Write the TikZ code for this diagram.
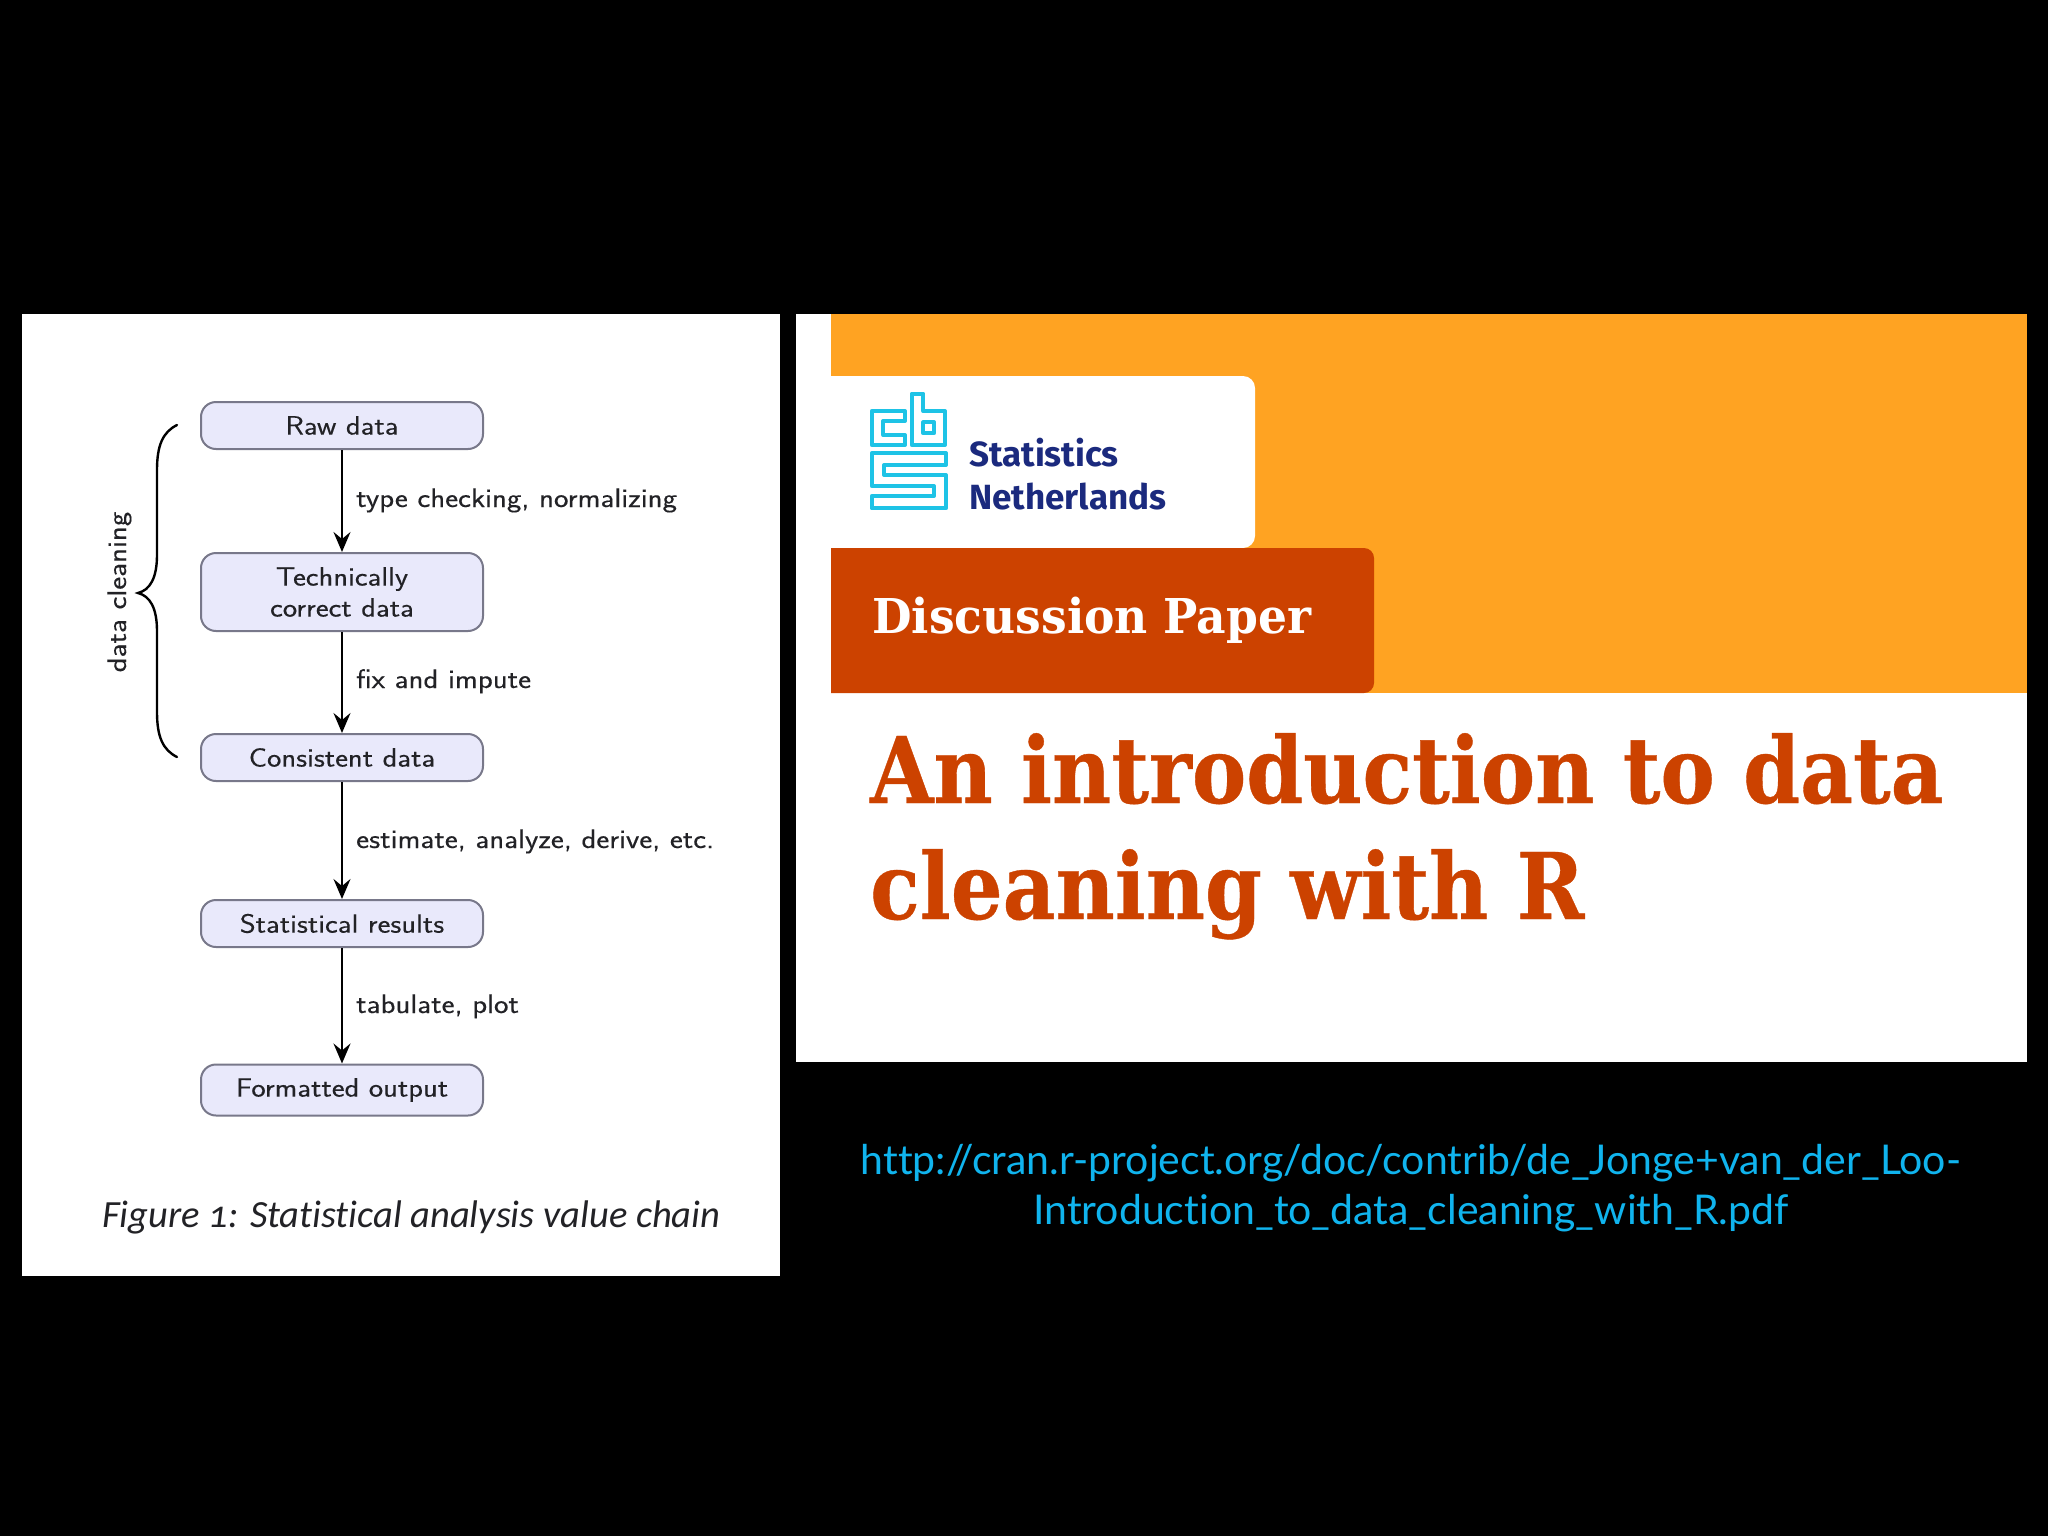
\documentclass[tikz,border=0pt]{standalone}
\usepackage{fontspec}
\usetikzlibrary{arrows.meta}
\newfontfamily\titlefont[FakeStretch=0.886,FakeBold=0.4,Ligatures=CommonOff]{DejaVu Serif}
\newfontfamily\dpfont[FakeStretch=0.95,Ligatures=CommonOff]{DejaVu Serif}
\newfontfamily\urlfont[Ligatures=CommonOff]{Lato}
\newfontfamily\capfont[Numbers=OldStyle,Ligatures=CommonOff]{Carlito}
\newfontfamily\logofont{Fira Sans}
\newfontfamily\diagfont[FakeStretch=1.15,FakeBold=0.25]{Latin Modern Sans}
\definecolor{boxfill}{HTML}{E9E9FB}
\definecolor{boxline}{HTML}{78788A}
\definecolor{cbsorange}{HTML}{FFA322}
\definecolor{cbsred}{HTML}{CC4200}
\definecolor{cbsnavy}{HTML}{1B2A7E}
\definecolor{cbscyan}{HTML}{1EC3E6}
\definecolor{urlcyan}{HTML}{10B4EE}
\definecolor{inkgrey}{HTML}{222226}
\tikzset{
  x=1pt,y=-1pt,
  stagebox/.style={draw=boxline,fill=boxfill,line width=2pt,rounded corners=15pt,minimum width=282pt,inner sep=0pt,align=center,text=inkgrey,font=\diagfont\fontsize{26.5}{31}\selectfont},
  flow/.style={line width=2.6pt,draw=black,-{Stealth[length=20pt,width=17pt,inset=7pt]}},
  steplabel/.style={anchor=base west,inner sep=0pt,text=inkgrey,font=\diagfont\fontsize{26.8}{30}\selectfont},
  logoline/.style={draw=cbscyan,line width=4pt,line join=round},
  logotext/.style={anchor=base west,inner sep=0pt,text=cbsnavy,font=\logofont\bfseries\fontsize{35}{40}\selectfont},
  titleline/.style={anchor=base west,inner sep=0pt,text=cbsred,font=\titlefont\bfseries\fontsize{92}{116}\selectfont},
  urlline/.style={anchor=base,inner sep=0pt,text=urlcyan,font=\urlfont\fontsize{41}{50}\selectfont},
}
\begin{document}
\begin{tikzpicture}
\useasboundingbox (0,0) rectangle (2048,1536);
\fill[black] (0,0) rectangle (2048,1536);
% left panel
\fill[white] (22,314) rectangle (780,1276);
\node[stagebox,minimum height=47pt] (raw) at (342,425.5) {\raisebox{-1pt}{Raw data}};
\node[stagebox,minimum height=78pt] (tech) at (342,592) {Technically\\correct data};
\node[stagebox,minimum height=47pt] (cons) at (342,757.5) {Consistent data};
\node[stagebox,minimum height=47pt] (stat) at (342,923.5) {Statistical results};
\node[stagebox,minimum height=51pt] (form) at (342,1090) {Formatted output};
\draw[flow] (raw) -- (tech);
\draw[flow] (tech) -- (cons);
\draw[flow] (cons) -- (stat);
\draw[flow] (stat) -- (form);
\node[steplabel] (l1) at (356,507) {type checking, normalizing};
\node[steplabel] (l2) at (356,688) {fix and impute};
\node[steplabel] (l3) at (356,848) {estimate, analyze, derive, etc.};
\node[steplabel] (l4) at (356,1013) {tabulate, plot};
\draw[line width=2.4pt,black,line cap=round] (177,425) .. controls (163,432) and (157,445) .. (157,470)
  -- (157,555) .. controls (157,578) and (150,590) .. (138,593)
  .. controls (150,596) and (157,608) .. (157,631)
  -- (157,712) .. controls (157,737) and (163,750) .. (177,757);
\node[anchor=base,rotate=90,inner sep=0pt,text=inkgrey,font=\diagfont\fontsize{26.8}{30}\selectfont] (dc) at (126,592) {data cleaning};
\node[anchor=base west,inner sep=0pt,text=inkgrey,font=\capfont\itshape\fontsize{38.5}{44}\selectfont] (cap) at (102,1227) {Figure 1: Statistical analysis value chain};
% right panel
\fill[white] (796,314) rectangle (2027,1062);
\fill[cbsorange] (831,314) rectangle (2027,693);
\fill[white,rounded corners=12pt] (800,376) rectangle (1255,548);
\fill[cbsred,rounded corners=10pt] (800,548) rectangle (1374,693);
\fill[white] (796,370) rectangle (831,700);
% logo
\draw[logoline] (871.7,411) -- (905,411) -- (905,421) -- (883.3,421) -- (883.3,435) -- (905,435) -- (905,445) -- (871.7,445) -- cycle;
\draw[logoline] (911.7,393.5) -- (923.3,393.5) -- (923.3,411) -- (945,411) -- (945,445) -- (911.7,445) -- cycle;
\draw[logoline] (923.3,422.3) rectangle (934,433.3);
\draw[logoline] (871.7,453.3) -- (946,453.3) -- (946,465) -- (884,465) -- (884,475) -- (946,475) -- (946,508.3) -- (871.7,508.3) -- (871.7,496) -- (934,496) -- (934,486) -- (871.7,486) -- cycle;
\node[logotext] (st) at (969,466) {Statistics};
\node[logotext] (nl) at (969,509.5) {Netherlands};
\node[anchor=base west,inner sep=0pt,text=white,font=\dpfont\bfseries\fontsize{48}{64}\selectfont] (dp) at (872,633) {Discussion Paper};
\node[titleline] (t1) at (870,803) {An introduction to data};
\node[titleline] (t2) at (870,919) {cleaning with R};
\node[urlline] (u1) at (1411,1174.5) {http://cran.r-project.org/doc/contrib/de\_Jonge+van\_der\_Loo-};
\node[urlline] (u2) at (1411,1224.5) {Introduction\_to\_data\_cleaning\_with\_R.pdf};
\end{tikzpicture}
\end{document}
